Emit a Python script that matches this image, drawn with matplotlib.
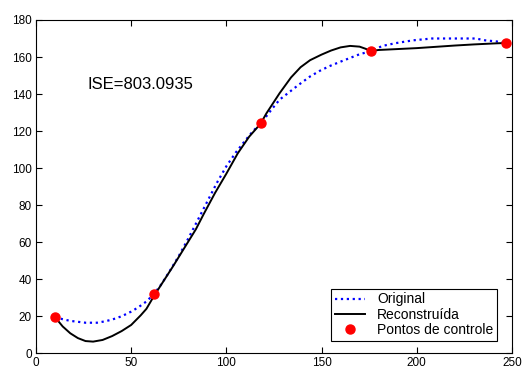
import matplotlib
matplotlib.use("Agg")
import matplotlib.pyplot as plt

plt.rcParams["font.family"] = ["Liberation Sans", "DejaVu Sans"]

# Original (blue dotted) curve
orig_x = [10, 14, 18, 22, 26, 32, 36, 40, 45, 50, 54, 58, 62, 66, 70, 75, 80, 85,
          90, 95, 100, 105, 110, 114, 118, 124, 128, 133, 138, 144, 149, 154, 160,
          165, 170, 176, 182, 189, 198, 208, 220, 231, 236, 242, 247]
orig_y = [19.5, 18.4, 17.5, 17, 16.5, 16.5, 17.2, 18.2, 20, 22.5, 25, 28, 32, 37.5,
          44, 52.5, 62, 72, 82, 92, 101, 108.5, 115, 120, 124, 132, 137, 141, 145,
          149.5, 152.5, 155, 157.5, 159.5, 161.5, 163.2, 166, 167.5, 169, 170,
          170, 170, 169, 168.4, 167.6]

# Reconstructed (black) curve
rec_x = [10, 14, 18, 22, 26, 30, 35, 40, 45, 50, 55, 58, 62, 67, 72, 78, 84, 88,
         94, 100, 106, 112, 118, 121, 128, 134, 139, 144, 150, 155, 160, 165, 170,
         173, 176, 180, 190, 200, 210, 220, 230, 240, 247]
rec_y = [19.5, 14.5, 10.8, 8.2, 6.6, 6.3, 7.2, 9.3, 12, 15.3, 20.5, 24, 31, 39,
         47, 57, 67, 75, 86.5, 97, 108, 117, 124, 129.5, 140.5, 149, 154.5, 158.3,
         161.3, 163.5, 165.2, 166, 165.6, 164.5, 163.2, 163.8, 164.3, 164.8, 165.5,
         166.2, 166.8, 167.3, 167.6]

# Control points
ctrl_x = [10, 62, 118, 176, 247]
ctrl_y = [19.5, 32, 124.3, 163.2, 167.6]

x_ticks = [0, 50, 100, 150, 200, 250]
y_ticks = [0, 20, 40, 60, 80, 100, 120, 140, 160, 180]

fig = plt.figure(figsize=(5.25, 3.68), dpi=100)
ax = fig.add_axes([0.0686, 0.04, 0.9064, 0.9057])

ax.plot(orig_x, orig_y, linestyle=":", color="#0000ff", linewidth=1.6,
        label="Original")
ax.plot(rec_x, rec_y, linestyle="-", color="black", linewidth=1.4,
        label="Reconstruída")
ax.plot(ctrl_x, ctrl_y, linestyle="none", marker="o", color="#ff0000",
        markersize=6.5, label="Pontos de controle")

ax.text(27, 145, "ISE=803.0935", fontsize=12, ha="left", va="center")

ax.set_xlim(0, 250)
ax.set_ylim(0, 180)
ax.set_xticks(x_ticks)
ax.set_yticks(y_ticks)
ax.tick_params(direction="in", top=True, right=True, labelsize=8.5,
               length=4, width=0.8, pad=3)
for s in ax.spines.values():
    s.set_linewidth(0.8)

leg = ax.legend(loc="lower right", bbox_to_anchor=(0.968, 0.038), fontsize=10,
                fancybox=False, framealpha=1, edgecolor="black",
                handlelength=2.2, borderpad=0.25, labelspacing=0.1,
                handletextpad=0.85, borderaxespad=0)
leg.get_frame().set_linewidth(0.8)

fig.savefig("out.png", dpi=100)
